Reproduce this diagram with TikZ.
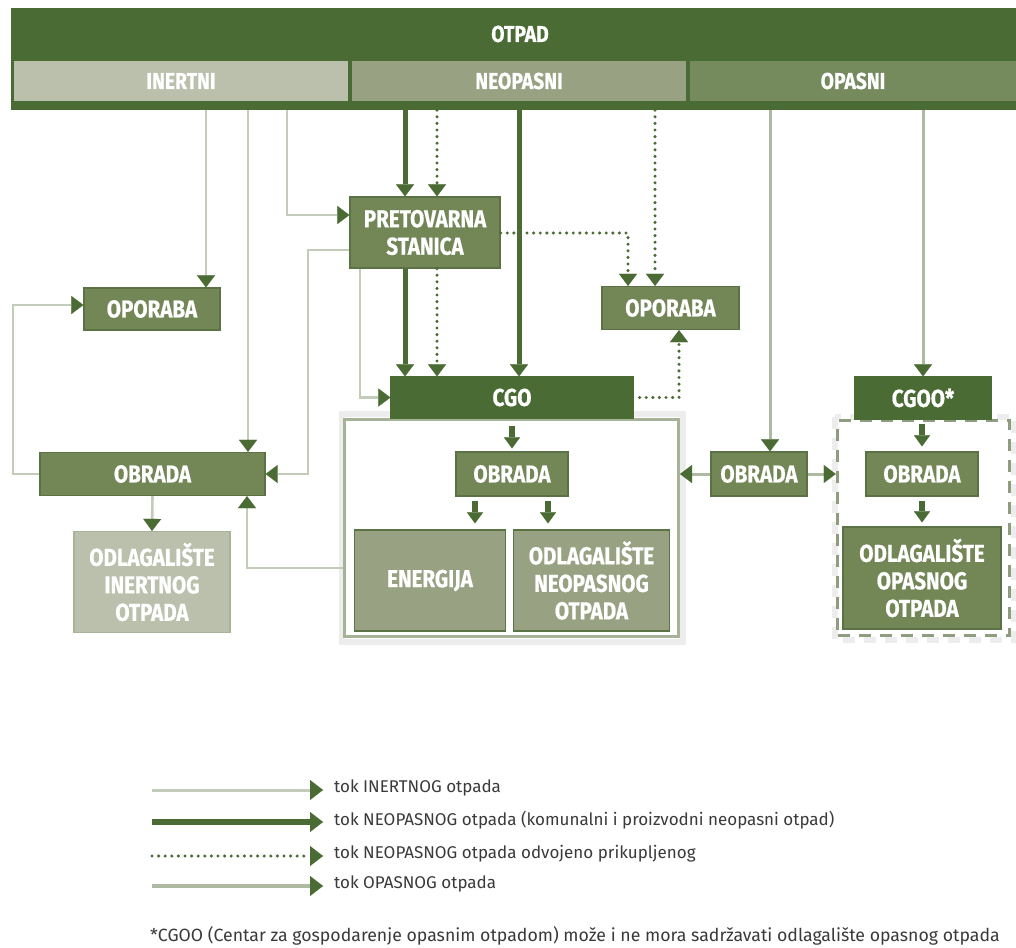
\documentclass[tikz,border=0pt]{standalone}
\usepackage{fontspec}
\newfontfamily\boxfont{Fira Sans}[FakeStretch=0.84, BoldFeatures={FakeBold=0.6}]
\newfontfamily\legfont{Fira Sans}
\usetikzlibrary{arrows.meta,calc}
\definecolor{dk}{HTML}{4A6B33}
\definecolor{md}{HTML}{728656}
\definecolor{nl}{HTML}{98A283}
\definecolor{lt}{HTML}{BAC0AB}
\definecolor{op}{HTML}{758A5D}
\definecolor{bd}{HTML}{5B7344}
\definecolor{inl}{HTML}{C3CCB9}
\definecolor{opl}{HTML}{AEB9A1}
\definecolor{cbd}{HTML}{A7B397}
\definecolor{dbd}{HTML}{8E9C80}
\definecolor{txt}{HTML}{3A3A3A}
\definecolor{shd}{HTML}{EDEDED}
\tikzset{
  ah/.tip={Triangle[width=18pt,length=12pt,line width=0.1pt,color=dk,fill=dk]},
  ahs/.tip={Triangle[width=16pt,length=11pt,line width=0.1pt,color=dk,fill=dk]},
  ahl/.tip={Triangle[width=20pt,length=13pt,line width=0.1pt,color=dk,fill=dk]},
}
\begin{document}
\begin{tikzpicture}[x=1pt,y=-1pt,
  bx/.style={draw=bd, line width=1.2pt, fill=md, text=white, align=center, inner sep=0pt,
     font=\boxfont\bfseries\fontsize{24.5}{27.5}\selectfont},
  hdr/.style={text=white, font=\boxfont\bfseries\fontsize{23}{26}\selectfont, inner sep=0pt},
  cell/.style={hdr, minimum height=40pt},
  inert/.style={draw=inl, line width=2.6pt, -ah},
  opas/.style={draw=opl, line width=3pt, -ah},
  neo/.style={draw=dk, line width=5pt, -ah},
  dotl/.style={draw=dk, line width=3.4pt, line cap=round, dash pattern=on 0pt off 6.6pt, -ah},
  sharr/.style={draw=dk, line width=5.5pt, -ahs},
  leg/.style={anchor=west, text=txt, font=\legfont\fontsize{17}{20}\selectfont, inner sep=0pt},
]
\useasboundingbox (0,0) rectangle (1016,947);
\fill[white] (0,0) rectangle (1016,947);

% header bar
\node[fill=dk, minimum width=1005pt, minimum height=102pt, inner sep=0pt] (otpad) at (513.5,59) {};
\node[hdr] (otpadlbl) at (520,34) {OTPAD};
\node[cell, fill=lt, minimum width=334pt] (inertni) at (181,81) {INERTNI};
\node[cell, fill=nl, minimum width=334pt] (neopasni) at (519,81) {NEOPASNI};
\node[cell, fill=op, minimum width=326pt] (opasni) at (853,81) {OPASNI};

% soft shadows of containers
\draw[shd, line width=6pt] (342,414) rectangle (683,642);
\draw[shd, line width=6pt, dash pattern=on 12pt off 9pt] (835,417) rectangle (1014,640);

% containers
\node[draw=cbd, line width=3pt, fill=white, minimum width=334pt, minimum height=217pt, inner sep=0pt] (cgoC) at (511.5,527.5) {};
\node[draw=dbd, line width=3.5pt, dash pattern=on 12pt off 9pt, minimum width=172pt, minimum height=215pt, inner sep=0pt] (dC) at (923.5,528) {};

% boxes
\node[bx, minimum width=150pt, minimum height=71pt] (pret) at (425,232.5) {PRETOVARNA\\STANICA};
\node[bx, minimum width=136pt, minimum height=42pt] (opL) at (152,309) {OPORABA};
\node[bx, minimum width=137pt, minimum height=43pt] (opR) at (670.5,308) {OPORABA};
\node[bx, fill=dk, draw=dk, minimum width=242pt, minimum height=41pt] (cgo) at (512,397.5) {CGO};
\node[bx, minimum width=112pt, minimum height=44pt] (obC) at (512,474) {OBRADA};
\node[bx, fill=nl, minimum width=151pt, minimum height=101pt] (ener) at (430,580.5) {ENERGIJA};
\node[bx, fill=nl, minimum width=156pt, minimum height=101pt] (odlN) at (591.5,580.5) {ODLAGALIŠTE\\NEOPASNOG\\OTPADA};
\node[bx, minimum width=225pt, minimum height=43pt] (obL) at (152.5,474) {OBRADA};
\node[bx, fill=lt, draw=cbd, minimum width=156pt, minimum height=101pt] (odlI) at (152,582) {ODLAGALIŠTE\\INERTNOG\\OTPADA};
\node[bx, minimum width=96pt, minimum height=44pt] (obM) at (759,474) {OBRADA};
\node[bx, fill=dk, draw=dk, minimum width=136pt, minimum height=42pt] (cgoo) at (923,398) {CGOO*};
\node[bx, minimum width=112pt, minimum height=44pt] (obR) at (922,474) {OBRADA};
\node[bx, minimum width=158pt, minimum height=102pt] (odlO) at (922,578) {ODLAGALIŠTE\\OPASNOG\\OTPADA};

% inert flows
\draw[inert] (otpad.south -| 206,0) -- (opL.north -| 206,0);
\draw[inert] (otpad.south -| 248,0) -- (obL.north -| 248,0);
\draw[inert] (otpad.south -| 287,0) |- (pret.west |- 0,215);
\draw[inert] (pret.west |- 0,250) -| (308,474) -- (obL.east);
\draw[inert] (pret.south -| 360,0) |- (cgo.west);
\draw[inert] (obL.west) -| (13,305) -- (opL.west |- 0,305);
\draw[inert] (obL.south) -- (odlI.north);
\draw[inert] (cgoC.west |- 0,568) -| (obL.south -| 247,0);

% neopasni flows
\draw[neo] (otpad.south -| 405,0) -- (pret.north -| 405,0);
\draw[dotl] (otpad.south -| 437,0) -- (pret.north -| 437,0);
\draw[neo] (otpad.south -| 519,0) -- (cgo.north -| 519,0);
\draw[neo] (pret.south -| 405,0) -- (cgo.north -| 405,0);
\draw[dotl] (pret.south -| 437,0) -- (cgo.north -| 437,0);
\draw[dotl] (pret.east |- 0,233) -| (opR.north -| 628,0);
\draw[dotl] (otpad.south -| 655,0) -- (opR.north -| 655,0);
\draw[dotl] ($(cgo.east)+(6,0)$) -| (opR.south -| 679,0);

% opasni flows
\draw[opas] (otpad.south -| 770,0) -- (obM.north -| 770,0);
\draw[opas] (otpad.south -| 923,0) -- (cgoo.north -| 923,0);
\draw[opas] (obM.west) -- (cgoC.east |- obM.west);
\draw[opas] (obM.east) -- (dC.west |- obM.east);

% short internal arrows
\draw[sharr] ($(cgo.south -| obC.north)+(0,7)$) -- ($(obC.north)+(0,-3)$);
\draw[sharr] ($(obC.south -| 475,0)+(0,4)$) -- ($(ener.north -| 475,0)+(0,-6)$);
\draw[sharr] ($(obC.south -| 548,0)+(0,4)$) -- ($(odlN.north -| 548,0)+(0,-6)$);
\draw[sharr] ($(cgoo.south -| obR.north)+(0,4)$) -- ($(obR.north)+(0,-5)$);
\draw[sharr] ($(obR.south)+(0,4)$) -- ($(odlO.north)+(0,-4)$);

% legend
\coordinate (a1) at (152,790); \coordinate (b1) at (323,790);
\coordinate (a2) at (152,822); \coordinate (b2) at (323,822);
\coordinate (a3) at (152,856); \coordinate (b3) at (323,856);
\coordinate (a4) at (152,886); \coordinate (b4) at (323,886);
\draw[inert, line width=3pt, -ahl] (a1) -- (b1);
\draw[neo, line width=6pt, -ahl] (a2) -- (b2);
\draw[dotl, -ahl] (a3) -- (b3);
\draw[opas, line width=3.5pt, -ahl] (a4) -- (b4);
\node[leg] (t1) at (334,788) {tok INERTNOG otpada};
\node[leg] (t2) at (334,820) {tok NEOPASNOG otpada (komunalni i proizvodni neopasni otpad)};
\node[leg] (t3) at (334,854) {tok NEOPASNOG otpada odvojeno prikupljenog};
\node[leg] (t4) at (334,884) {tok OPASNOG otpada};
\node[leg, font=\legfont\fontsize{17.7}{21}\selectfont] (fn) at (150,936) {*CGOO (Centar za gospodarenje opasnim otpadom) može i ne mora sadržavati odlagalište opasnog otpada};
\end{tikzpicture}
\end{document}
